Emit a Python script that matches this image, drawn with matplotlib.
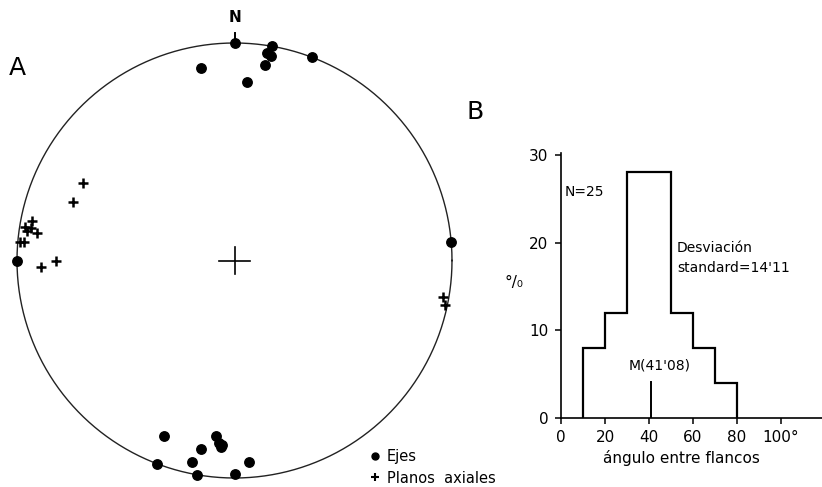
import numpy as np
import matplotlib
matplotlib.use('Agg')
import matplotlib.pyplot as plt
from matplotlib.lines import Line2D

W, H = 822, 487

# ---- Data -------------------------------------------------------------
# Stereonet (lower hemisphere, equal-area): trend / plunge in degrees
ejes_trend = [0, 10, 9, 10, 9, 21, 350, 4, 85, 270,
              202, 186, 185, 184, 184, 190, 201, 192, 176, 190, 180]
ejes_plunge = [0, 0, 4, 5, 10, 0, 11, 19, 0, 0,
               14, 20, 17, 16, 15, 13, 0, 6, 8, 0, 2]
planos_trend = [297, 290, 281, 279, 279, 278, 278, 275, 275, 270, 268, 100, 102]
planos_plunge = [23, 22, 6, 3, 6, 4, 9, 1, 3, 19, 12, 3, 1]

# Histogram of interlimb angles
bin_edges = [10, 20, 30, 40, 50, 60, 70, 80]
percent = [8, 12, 28, 28, 12, 8, 4]
n_total = 25
median_angle = 41.08
x_ticks = [0, 20, 40, 60, 80, 100]
x_ticklabels = ['0', '20', '40', '60', '80', '100°']
y_ticks = [0, 10, 20, 30]


def schmidt(trend, plunge):
    t = np.radians(np.asarray(trend, float))
    p = np.radians(np.asarray(plunge, float))
    r = np.sqrt(2) * np.sin((np.pi / 2 - p) / 2)
    return r * np.sin(t), r * np.cos(t)


plt.rcParams['font.family'] = ['DejaVu Sans']
fig = plt.figure(figsize=(W / 100, H / 100), dpi=100)

# ---- A: stereonet ------------------------------------------------------
ax = fig.add_axes([17 / W, 9 / H, 435 / W, 435 / H])
ax.set_xlim(-1, 1)
ax.set_ylim(-1, 1)
ax.axis('off')

th = np.linspace(0, 2 * np.pi, 721)
ax.plot(np.cos(th), np.sin(th), color='#222222', lw=1.0, clip_on=False)
ax.plot([-0.072, 0.072], [0, 0], color='k', lw=1.2)
ax.plot([0, 0], [-0.064, 0.064], color='k', lw=1.2)
ax.plot([0, 0], [1, 1.048], color='k', lw=1.4, clip_on=False)
ax.text(0, 1.115, 'N', ha='center', va='center', fontsize=11,
        fontweight='bold')

ex, ey = schmidt(ejes_trend, ejes_plunge)
ax.plot(ex, ey, 'o', color='k', ms=6.8, clip_on=False)
px, py = schmidt(planos_trend, planos_plunge)
ax.plot(px, py, '+', color='k', ms=7, mew=1.8, clip_on=False)

fig.text(17.5 / W, 1 - 68 / H, 'A', ha='center', va='center', fontsize=18)
fig.text(475 / W, 1 - 112 / H, 'B', ha='center', va='center', fontsize=18)

handles = [Line2D([], [], marker='o', ls='none', color='k', ms=5, label='Ejes'),
           Line2D([], [], marker='+', ls='none', color='k', ms=6, mew=1.5,
                  label='Planos  axiales')]
fig.legend(handles=handles, loc='upper left',
           bbox_to_anchor=(369 / W, 1 - 449 / H), bbox_transform=fig.transFigure,
           frameon=False, fontsize=10.5, handlelength=0.8, handletextpad=0.4,
           labelspacing=0.45, borderpad=0, borderaxespad=0)

# ---- B: histogram ------------------------------------------------------
ax2 = fig.add_axes([561 / W, 69 / H, 261 / W, 265 / H])
ax2.set_xlim(0, 118.6)
ax2.set_ylim(0, 30.2)
ax2.stairs(percent, bin_edges, baseline=0, color='k', lw=1.6)
ax2.plot([median_angle, median_angle], [0, 4.1], color='k', lw=1.4)

for s in ['top', 'right']:
    ax2.spines[s].set_visible(False)
for s in ['left', 'bottom']:
    ax2.spines[s].set_linewidth(1.2)
ax2.set_xticks(x_ticks)
ax2.set_xticklabels(x_ticklabels)
ax2.set_yticks(y_ticks)
ax2.tick_params(axis='both', direction='out', length=4, width=1.1,
                labelsize=11)
ax2.tick_params(axis='x', pad=5)
ax2.tick_params(axis='y', pad=5)

ax2.text(1.8, 25.7, f'N={n_total}', ha='left', va='center', fontsize=10)
ax2.text(52.7, 19.4, 'Desviación', ha='left', va='center', fontsize=10)
ax2.text(52.7, 17.1, "standard=14'11", ha='left', va='center', fontsize=10)
ax2.text(44.7, 6.0, "M(41'08)", ha='center', va='center', fontsize=10)
ax2.text(-21.4, 15.4, '°/₀', ha='center', va='center', fontsize=11,
         clip_on=False)
ax2.text((681 - 561) / 261, -40 / 265, 'ángulo entre flancos',
         transform=ax2.transAxes, ha='center', va='center', fontsize=11)

fig.savefig('out.png', dpi=100)
